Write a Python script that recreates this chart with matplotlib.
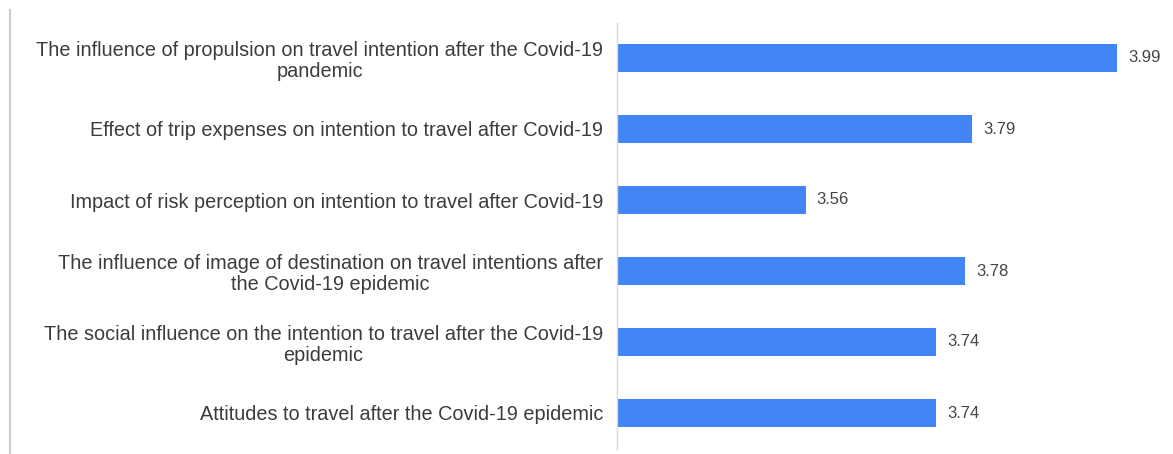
import numpy as np
import matplotlib
matplotlib.use("Agg")
import matplotlib.pyplot as plt
from matplotlib.lines import Line2D

# factors, top to bottom as in the chart
factors = [
    "The influence of propulsion on travel intention after the Covid-19\npandemic",
    "Effect of trip expenses on intention to travel after Covid-19",
    "Impact of risk perception on intention to travel after Covid-19",
    "The influence of image of destination on travel intentions after\nthe Covid-19 epidemic",
    "The social influence on the intention to travel after the Covid-19\nepidemic",
    "Attitudes to travel after the Covid-19 epidemic",
]
scores = [3.99, 3.79, 3.56, 3.78, 3.74, 3.74]

plt.rcParams['font.family'] = ['Liberation Sans', 'DejaVu Sans']

W, H = 1173, 454
fig = plt.figure(figsize=(W / 100, H / 100), dpi=100)
ax = fig.add_axes([617 / W, 1 - 448.5 / H, (W - 617) / W, 426 / H])

y = np.arange(len(factors))
ax.barh(y, scores, height=0.39, color="#4285f4", left=0)
ax.set_ylim(len(factors) - 0.5, -0.5)
ax.set_xlim(3.3, 3.3 + (W - 617) / 725)

for yi, v in zip(y, scores):
    ax.annotate(f"{v:.2f}", (v, yi), xytext=(8, 0), textcoords="offset points",
                va="center", ha="left", fontsize=12, color="#444444",
                annotation_clip=False)

ax.set_yticks(y)
ax.set_yticklabels(factors, fontsize=14.3, color="#3c3c3c",
                   multialignment="center", linespacing=1.15)
ax.tick_params(axis="y", length=0, pad=10)
ax.set_xticks([])

for s in ["top", "right", "bottom"]:
    ax.spines[s].set_visible(False)
ax.spines["left"].set_color("#d9d9d9")
ax.spines["left"].set_linewidth(1)

# light frame line at the left edge of the picture
fig.add_artist(Line2D([10 / W, 10 / W], [0, 1 - 10 / H], color="#cccccc", lw=1.5))

fig.savefig("out.png", dpi=100, facecolor="white")
